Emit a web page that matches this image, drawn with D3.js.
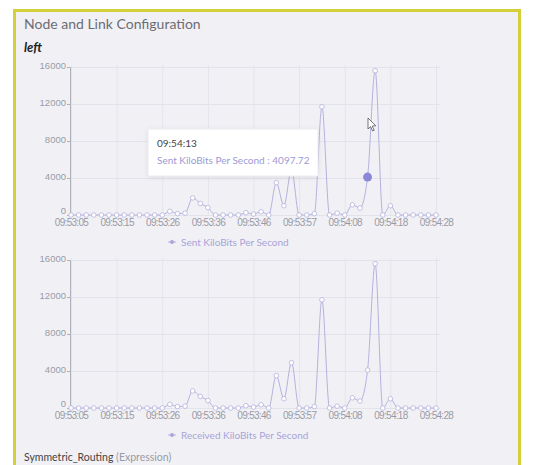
<!DOCTYPE html>
<html>
<head>
<meta charset="utf-8">
<script src="https://cdn.jsdelivr.net/npm/d3@7"></script>
<style>
body { margin: 0; background: #fff; font-family: Lato, "Open Sans", sans-serif; }
.tick text { fill: #9a9aa6; font-size: 9.5px; }
.xax .tick text { font-size: 10px; letter-spacing: -0.7px; }
</style>
</head>
<body>
<script>
var width = 548,
height = 465;

// tick labels (one every 6 samples)
var timeLabels = ["09:53:05", "09:53:15", "09:53:26", "09:53:36", "09:53:46", "09:53:57", "09:54:08", "09:54:18", "09:54:28"];
var labelEvery = 6;
var yTicks = [0, 4000, 8000, 12000, 16000];

var sentKbps = [0, 0, 0, 0, 0, 0, 0, 0, 0, 0, 0, 0, 0,
    400, 150, 200, 1850, 1250, 800, 0, 0, 0, 0,
    250, 100, 350, 0, 3500, 1000, 4900, 0, 0, 150,
    11700, 0, 200, 0, 1100, 750, 4097.72, 15600, 0, 1000,
    0, 0, 0, 0, 0, 0];
var receivedKbps = [0, 0, 0, 0, 0, 0, 0, 0, 0, 0, 0, 0, 0,
    400, 150, 200, 1850, 1250, 800, 0, 0, 0, 0,
    250, 100, 350, 0, 3500, 1000, 4900, 0, 0, 150,
    11700, 0, 200, 0, 1100, 750, 4097.72, 15600, 0, 1000,
    0, 0, 0, 0, 0, 0];

var tipIndex = 39;
var lineColor = "#b4b1dd";

var svg = d3.select("body").append("svg")
    .attr("width", width)
    .attr("height", height);

// panel
svg.append("rect")
    .attr("x", 14.5).attr("y", 10.5)
    .attr("width", 505).attr("height", 470)
    .attr("fill", "#f1f1f5")
    .attr("stroke", "#d4d03a")
    .attr("stroke-width", 3);

svg.append("text").attr("x", 24).attr("y", 29)
    .style("font-size", "14px").style("fill", "#6c6c74")
    .text("Node and Link Configuration");
svg.append("text").attr("x", 24).attr("y", 52)
    .style("font-size", "13px").style("font-weight", "bold").style("font-style", "italic")
    .style("fill", "#222")
    .text("left");

var x = d3.scaleLinear().domain([0, sentKbps.length - 1]).range([71, 436]);

function drawChart(top, values, legendText, showTip) {
    var y = d3.scaleLinear().domain([0, 16000]).range([top + 148, top]);
    var g = svg.append("g");

    // grid
    g.selectAll(".hgrid").data(yTicks).enter().append("line")
	.attr("x1", 70).attr("x2", 440)
	.attr("y1", function(d) { return y(d) + 0.5; })
	.attr("y2", function(d) { return y(d) + 0.5; })
	.attr("stroke", "#e3e3ec");
    g.selectAll(".vgrid").data(d3.range(0, values.length, labelEvery)).enter().append("line")
	.attr("x1", function(d) { return x(d) + 0.5; })
	.attr("x2", function(d) { return x(d) + 0.5; })
	.attr("y1", top - 2).attr("y2", top + 148)
	.attr("stroke", "#e3e3ec");

    var yAxis = g.append("g")
	.attr("transform", "translate(70,0)")
	.call(d3.axisLeft(y).tickValues(yTicks).tickFormat(d3.format("d")).tickSize(3).tickPadding(1));
    yAxis.select(".domain").attr("stroke", "#b0b0bb");
    yAxis.selectAll(".tick line").attr("stroke", "#b0b0bb");
    yAxis.selectAll(".tick text").attr("dy", function(d) { return d === 0 ? "-0.15em" : "0.2em"; });

    var xAxis = g.append("g")
	.attr("class", "xax")
	.attr("transform", "translate(0," + (top + 148) + ")")
	.call(d3.axisBottom(x)
	      .tickValues(d3.range(0, values.length, labelEvery))
	      .tickFormat(function(d, i) { return timeLabels[i]; })
	      .tickSize(0).tickPadding(4));
    xAxis.select(".domain").remove();

    var line = d3.line()
	.x(function(d, i) { return x(i); })
	.y(function(d) { return y(d); })
	.curve(d3.curveMonotoneX);

    g.append("path").datum(values)
	.attr("d", line)
	.attr("fill", "none")
	.attr("stroke", lineColor)
	.attr("stroke-width", 1);

    g.selectAll(".pt").data(values).enter().append("circle")
	.attr("cx", function(d, i) { return x(i); })
	.attr("cy", function(d) { return y(d); })
	.attr("r", 2.3)
	.attr("fill", "#fff")
	.attr("stroke", lineColor)
	.attr("stroke-width", 0.8);

    // legend
    var lg = g.append("g").attr("transform", "translate(" + 172 + "," + (top + 175) + ")");
    lg.append("line").attr("x1", -4).attr("x2", 4).attr("stroke", lineColor);
    lg.append("circle").attr("r", 2).attr("fill", "#a9a5da");
    lg.append("text").attr("x", 9).attr("dy", "0.35em")
	.style("font-size", "10px").style("fill", "#a7a3d8")
	.text(legendText);

    if (showTip) {
	g.append("circle")
	    .attr("cx", x(tipIndex)).attr("cy", y(values[tipIndex]))
	    .attr("r", 4.5).attr("fill", "#8c87d9");
	var tip = g.append("g").attr("transform", "translate(148,129)");
	tip.append("rect").attr("width", 170).attr("height", 47)
	    .attr("fill", "#fff").attr("stroke", "#ececf2")
	    .style("filter", "drop-shadow(0 1px 2px rgba(0,0,0,0.08))");
	tip.append("text").attr("x", 9).attr("y", 18)
	    .style("font-size", "10px").style("fill", "#444")
	    .text("09:54:13");
	tip.append("text").attr("x", 9).attr("y", 35)
	    .style("font-size", "10px").style("fill", "#9d99d6")
	    .text(legendText + " : " + values[tipIndex]);
	// mouse pointer
	svg.append("path")
	    .attr("d", "M368,118 l0,11 l2.6,-2.4 l2,4.4 l1.6,-0.8 l-2,-4.2 l3.6,-0.2 z")
	    .attr("fill", "#fff").attr("stroke", "#555").attr("stroke-width", 0.8);
    }
}

drawChart(67, sentKbps, "Sent KiloBits Per Second", true);
drawChart(260, receivedKbps, "Received KiloBits Per Second", false);

var foot = svg.append("text").attr("x", 24).attr("y", 461).style("font-size", "10.5px");
foot.append("tspan").style("fill", "#444").text("Symmetric_Routing");
foot.append("tspan").style("fill", "#9a9aa6").text(" (Expression)");
</script>
</body>
</html>
